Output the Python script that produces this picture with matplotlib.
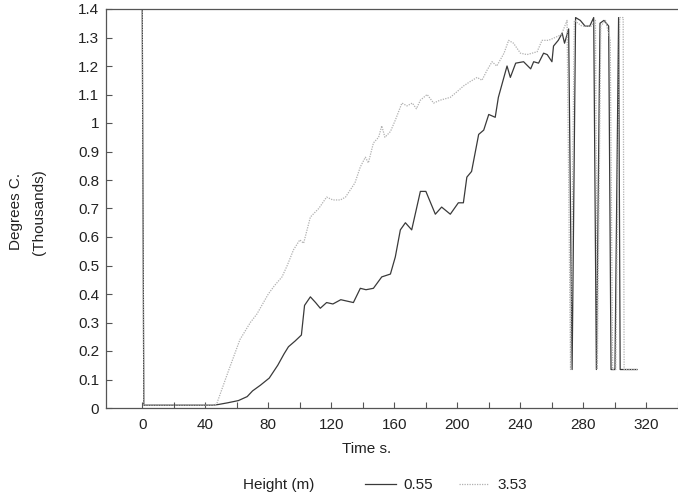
import matplotlib
matplotlib.use("Agg")
import matplotlib.pyplot as plt
from matplotlib.ticker import MultipleLocator, FuncFormatter, FixedLocator

plt.rcParams['font.family'] = ['Liberation Sans', 'DejaVu Sans']

# Series "0.55" (Height m) - time in s, value in thousands of degrees C
t_055 = [0, 1, 20, 40, 45, 48, 54, 61, 66.6, 70, 75, 80.6, 86, 90, 92.8, 97, 101, 103,
         106.7, 110, 113, 117, 121, 126, 130, 134, 138.4, 142, 146.7, 152, 157.5, 160.6,
         163.8, 167, 171, 176.5, 180, 186, 190, 195.5, 200.6, 203.8, 206, 209, 213.5,
         216.7, 219.9, 224, 226, 231.5, 233.6, 237, 242, 246.5, 248.4, 251.5, 254.7, 257,
         260, 261, 264, 266.5, 268, 270.6, 272.8, 275, 278, 281, 284, 286.5, 288.2, 290.5,
         293, 296, 297.5, 300, 302.3, 303.3, 314]
v_055 = [1.4, 0.01, 0.01, 0.01, 0.01, 0.012, 0.018, 0.026, 0.04, 0.06, 0.08, 0.105, 0.15,
         0.19, 0.215, 0.235, 0.256, 0.36, 0.39, 0.37, 0.35, 0.37, 0.365, 0.38, 0.375, 0.37,
         0.42, 0.415, 0.42, 0.46, 0.47, 0.53, 0.625, 0.65, 0.625, 0.76, 0.76, 0.68, 0.705,
         0.68, 0.72, 0.72, 0.81, 0.83, 0.96, 0.975, 1.03, 1.02, 1.09, 1.20, 1.16, 1.21, 1.215,
         1.19, 1.215, 1.21, 1.245, 1.24, 1.215, 1.27, 1.29, 1.315, 1.28, 1.33, 0.135, 1.37,
         1.36, 1.34, 1.34, 1.37, 0.135, 1.35, 1.36, 1.34, 0.135, 0.135, 1.37, 0.135, 0.135]

# Series "3.53"
t_353 = [0, 1, 20, 40, 46, 47.4, 54.7, 62, 68.6, 72.8, 80, 84, 88.7, 92, 96, 100, 102.4,
         106.7, 112, 117, 121, 125.7, 129, 132, 135, 138.4, 141.6, 143.5, 146.7, 150, 152,
         154, 157.5, 160.6, 164.8, 168, 171.4, 174, 176.5, 180.8, 184.9, 189, 195.5, 199.8,
         203.9, 208, 212.5, 215.6, 218.8, 222, 225, 229.6, 232.5, 235.6, 240, 244.2, 250.6,
         253.7, 257.8, 262, 266, 269.6, 271.8, 274.2, 279, 285, 287.6, 288.8, 291, 294, 297,
         298.5, 300.5, 303, 305.2, 305.8, 314]
v_353 = [1.4, 0.01, 0.01, 0.01, 0.01, 0.017, 0.13, 0.24, 0.30, 0.33, 0.40, 0.43, 0.46, 0.50,
         0.555, 0.59, 0.578, 0.67, 0.70, 0.74, 0.73, 0.73, 0.74, 0.765, 0.79, 0.846, 0.88,
         0.86, 0.93, 0.95, 0.99, 0.95, 0.97, 1.01, 1.07, 1.06, 1.07, 1.05, 1.08, 1.10, 1.07,
         1.08, 1.09, 1.11, 1.13, 1.145, 1.16, 1.15, 1.185, 1.215, 1.20, 1.245, 1.29, 1.28,
         1.245, 1.24, 1.25, 1.29, 1.29, 1.30, 1.31, 1.36, 0.135, 1.36, 1.34, 1.34, 1.36,
         0.135, 1.34, 1.36, 1.29, 0.135, 0.135, 1.37, 1.37, 0.135, 0.135]

series_labels = ["0.55", "3.53"]
legend_title = "Height (m)"
x_label = "Time s."
x_major = list(range(0, 321, 40))
x_minor = list(range(20, 341, 40))

FS = 11
W, H = 678, 499
fig = plt.figure(figsize=(W / 100, H / 100), dpi=100)
ax = fig.add_axes([106 / W, (H - 408) / H, (W - 106) / W, 399 / H])

l1, = ax.plot(t_055, v_055, color='#3a3a3a', lw=0.9, label=series_labels[0])
l2, = ax.plot(t_353, v_353, color='#b0b0b0', lw=0.9, ls=(0, (1, 1)), label=series_labels[1])

ax.set_xlim(-23, 340)
ax.set_ylim(0, 1.4)
ax.xaxis.set_major_locator(FixedLocator(x_major))
ax.xaxis.set_minor_locator(FixedLocator(x_minor))
ax.yaxis.set_major_locator(MultipleLocator(0.1))
ax.yaxis.set_major_formatter(FuncFormatter(lambda v, p: f"{v:g}" if abs(v) > 1e-9 else "0"))
ax.tick_params(axis='both', which='both', direction='in', length=4, width=0.8,
               color='#555555', labelsize=FS, labelcolor='#222222')
ax.tick_params(axis='x', which='both', top=False, pad=7)
ax.tick_params(axis='y', right=False, pad=5)
for s in ['left', 'bottom', 'top']:
    ax.spines[s].set_color('#555555')
    ax.spines[s].set_linewidth(0.9)
ax.spines['right'].set_visible(False)

fig.text(367 / W, 1 - 449 / H, x_label, ha='center', va='center', fontsize=FS, color='#222222')
fig.text(16 / W, 1 - 212 / H, "Degrees C.", rotation=90, ha='center', va='center',
         fontsize=FS, color='#222222')
fig.text(39 / W, 1 - 212 / H, "(Thousands)", rotation=90, ha='center', va='center',
         fontsize=FS, color='#222222')

fig.text(243 / W, 1 - 485 / H, legend_title, ha='left', va='center', fontsize=FS,
         color='#222222')
leg = fig.legend(handles=[l1, l2], loc='center left', bbox_to_anchor=(365 / W, 1 - 485 / H),
                 ncol=2, frameon=False, fontsize=FS, handlelength=2.0, handletextpad=0.5,
                 columnspacing=1.7, borderaxespad=0, borderpad=0)
for t in leg.get_texts():
    t.set_color('#222222')

fig.savefig("out.png", dpi=100)
